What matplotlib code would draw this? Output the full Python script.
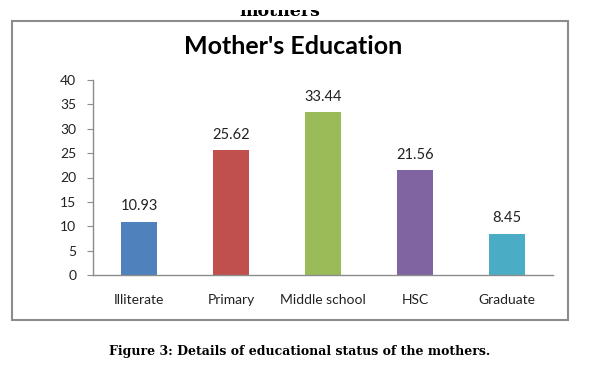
import matplotlib
matplotlib.use("Agg")
import matplotlib.pyplot as plt
from matplotlib.patches import Rectangle

categories = ["Illiterate", "Primary", "Middle school", "HSC", "Graduate"]
values = [10.93, 25.62, 33.44, 21.56, 8.45]
value_labels = ["10.93", "25.62", "33.44", "21.56", "8.45"]
yticks = [0, 5, 10, 15, 20, 25, 30, 35, 40]
colors = ["#4F81BD", "#C0504D", "#9BBB59", "#8064A2", "#4BACC6"]

W, H = 600, 372
fig = plt.figure(figsize=(W / 100, H / 100), dpi=100)
fig.patch.set_facecolor("white")

# chart frame box
fig.patches.append(Rectangle((12 / W, 1 - 320 / H), (568 - 12) / W, (320 - 21) / H,
                             transform=fig.transFigure, fill=False,
                             edgecolor="#8c8c8c", linewidth=1.5, zorder=1))

ax = fig.add_axes([93 / W, 1 - 275 / H, (553 - 93) / W, (275 - 80) / H])
x = list(range(len(categories)))
ax.bar(x, values, width=0.4, color=colors, zorder=2)
ax.set_xlim(-0.5, len(categories) - 0.5)
ax.set_ylim(0, 40)
ax.set_yticks(yticks)
ax.set_yticklabels([str(t) for t in yticks])
ax.set_xticks(x)
ax.set_xticklabels(categories)

for s in ["top", "right"]:
    ax.spines[s].set_visible(False)
for s in ["left", "bottom"]:
    ax.spines[s].set_color("#8c8c8c")
    ax.spines[s].set_linewidth(1.0)

ax.tick_params(axis="y", length=4, color="#8c8c8c", pad=8, labelsize=10, labelcolor="#222222")
ax.tick_params(axis="x", length=0, pad=14, labelsize=10, labelcolor="#222222")
for lab in ax.get_xticklabels() + ax.get_yticklabels():
    lab.set_family("Lato")

for xi, v, t in zip(x, values, value_labels):
    ax.annotate(t, (xi, v), xytext=(0, 6), textcoords="offset points",
                ha="center", va="bottom", fontsize=10.5, family="Lato", color="#222222")

fig.text(293 / W, 1 - 47 / H, "Mother's Education", ha="center", va="center",
         fontsize=18, fontweight="bold", family="Lato", color="black")

fig.text(300 / W, 1 - 352 / H, "Figure 3: Details of educational status of the mothers.",
         ha="center", va="center", fontsize=9.0, fontweight="bold",
         family="DejaVu Serif", color="black")

# cut-off text at the very top
fig.text(280 / W, 1 - 16 / H, "mothers", ha="center", va="baseline", fontsize=12.5,
         fontweight="bold", family="DejaVu Serif", color="black")
fig.patches.append(Rectangle((0, 1 - 10 / H), 1, 10 / H, transform=fig.transFigure,
                             facecolor="white", edgecolor="none", zorder=10))

fig.savefig("out.png", dpi=100)
